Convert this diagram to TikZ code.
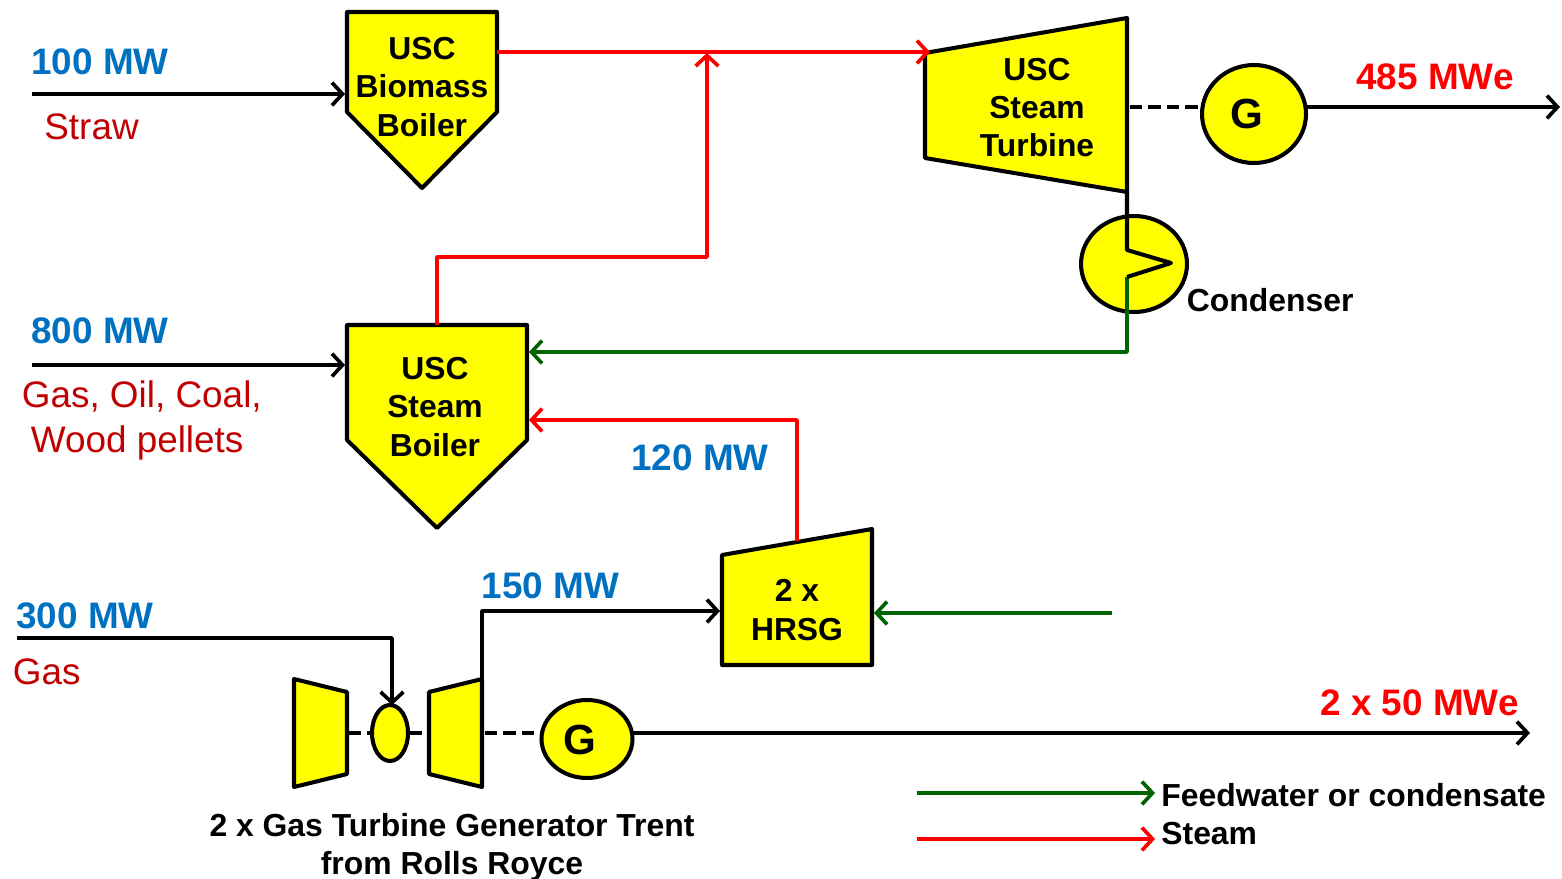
\documentclass[tikz,border=0pt]{standalone}
\usepackage{fontspec}
\setmainfont{Liberation Sans}
\usetikzlibrary{arrows.meta,shapes.geometric}
\definecolor{powerblue}{HTML}{0070C0}
\definecolor{fuelred}{HTML}{C00000}
\definecolor{waterlinegreen}{HTML}{006400}
\definecolor{unityellow}{HTML}{FFFF00}
\definecolor{steamred}{HTML}{FF0000}
\tikzset{
  unitbox/.style={draw=black, fill=unityellow, line width=2.3pt, line join=round},
  unitcirc/.style={ellipse, draw=black, fill=unityellow, line width=2.3pt, inner sep=0pt},
  flow/.style={->, line width=2.1pt, line join=round},
  steam/.style={flow, draw=steamred},
  water/.style={flow, draw=waterlinegreen},
  shaft/.style={draw=black, line width=2.1pt, dash pattern=on 7pt off 3.5pt},
  unitlabel/.style={font=\bfseries\fontsize{18.1}{21.8}\selectfont, align=center, inner sep=0pt},
  powerlabel/.style={anchor=base west, inner sep=0pt, text=powerblue, font=\bfseries\fontsize{21}{24}\selectfont},
  elabel/.style={anchor=base west, inner sep=0pt, text=steamred, font=\bfseries\fontsize{21}{24}\selectfont},
  fuellabel/.style={anchor=base west, inner sep=0pt, text=fuelred, font=\fontsize{21}{24}\selectfont},
  notelabel/.style={anchor=base west, inner sep=0pt, font=\bfseries\fontsize{18.15}{21.8}\selectfont},
}
\begin{document}
\begin{tikzpicture}[x=0.02cm, y=-0.02cm, >={Straight Barb[length=6pt,width=13pt]}]
  \useasboundingbox (0,0) rectangle (1562,879);

  % units
  \draw[unitbox] (347,12) -- (497,12) -- (497,112) -- (422,188) -- (347,112) -- cycle;
  \draw[unitbox] (347,325) -- (527,325) -- (527,440) -- (437,528) -- (347,440) -- cycle;
  \draw[unitbox] (925,53) -- (1127,18) -- (1127,192) -- (925,158) -- cycle;
  \draw[unitbox] (722,555) -- (872,529) -- (872,665) -- (722,665) -- cycle;
  \draw[unitbox] (294,679) -- (347,692) -- (347,774) -- (294,787) -- cycle;
  \draw[unitbox] (429,692) -- (482,679) -- (482,787) -- (429,774) -- cycle;

  % connection points
  \coordinate (BiomassOut) at (497,52);
  \coordinate (TurbineIn) at (930,52);
  \coordinate (SteamJoin) at (707,53);
  \coordinate (SteamBoilerTop) at (437,325);
  \coordinate (Bend1) at (437,257);
  \coordinate (Bend2) at (707,257);
  \coordinate (StrawStart) at (32,94);
  \coordinate (BiomassIn) at (345,94);
  \coordinate (FuelStart) at (32,365);
  \coordinate (SteamBoilerIn) at (345,365);
  \coordinate (TurbineShaft) at (1130,107);
  \coordinate (GenSteamIn) at (1201,107);
  \coordinate (GenSteamOut) at (1307,107);
  \coordinate (GridSteam) at (1560,107);
  \coordinate (TurbineFoot) at (1127,192);
  \coordinate (CoilA) at (1127,250);
  \coordinate (CoilB) at (1171,263);
  \coordinate (CoilC) at (1127,277);
  \coordinate (Bend3) at (1127,352);
  \coordinate (FeedIn) at (529,352);
  \coordinate (HrsgTop) at (797,541);
  \coordinate (Bend4) at (797,420);
  \coordinate (ReheatIn) at (529,420);
  \coordinate (HrsgWaterStart) at (1112,613);
  \coordinate (HrsgWaterIn) at (874,613);
  \coordinate (GasTurbineTop) at (482,680);
  \coordinate (Bend5) at (482,611);
  \coordinate (HrsgIn) at (720,611);
  \coordinate (GasStart) at (17,638);
  \coordinate (Bend6) at (392,638);
  \coordinate (CombustorIn) at (392,705);
  \coordinate (CompShaft) at (349,733);
  \coordinate (CombIn) at (372,733);
  \coordinate (CombOut) at (410,733);
  \coordinate (TurbIn) at (429,733);
  \coordinate (GasShaft) at (485,733);
  \coordinate (GenGasIn) at (542,733);
  \coordinate (GenGasOut) at (633,733);
  \coordinate (GridGas) at (1530,733);
  \coordinate (LegendGreenA) at (917,793);
  \coordinate (LegendGreenB) at (1155,793);
  \coordinate (LegendRedA) at (917,839);
  \coordinate (LegendRedB) at (1155,839);

  % shafts and power
  \draw[shaft] (TurbineShaft) to (GenSteamIn);
  \draw[shaft] (CompShaft) to (CombIn);
  \draw[shaft] (CombOut) to (TurbIn);
  \draw[shaft] (GasShaft) to (GenGasIn);

  \node[unitcirc, minimum width=2.08cm, minimum height=1.96cm] (GenSteam) at (1254,114) {};
  \node[unitcirc, minimum width=2.12cm, minimum height=1.92cm] (Condenser) at (1134,264) {};
  \node[unitcirc, minimum width=0.72cm, minimum height=1.12cm] (Combustor) at (390,733) {};
  \node[unitcirc, minimum width=1.82cm, minimum height=1.56cm] (GenGas) at (587,739) {};

  % steam
  \draw[steam] (BiomassOut) to (TurbineIn);
  \draw[steam] (SteamBoilerTop) -- (Bend1) -- (Bend2) -- (SteamJoin);
  \draw[steam] (HrsgTop) -- (Bend4) -- (ReheatIn);
  \draw[steam] (LegendRedA) to (LegendRedB);

  % feedwater
  \draw[water] (CoilC) -- (Bend3) -- (FeedIn);
  \draw[water] (HrsgWaterStart) to (HrsgWaterIn);
  \draw[water] (LegendGreenA) to (LegendGreenB);

  % fuel and flue gas
  \draw[flow] (StrawStart) to (BiomassIn);
  \draw[flow] (FuelStart) to (SteamBoilerIn);
  \draw[flow] (GasStart) -- (Bend6) -- (CombustorIn);
  \draw[flow] (GasTurbineTop) -- (Bend5) -- (HrsgIn);

  \draw[flow] (GenSteamOut) to (GridSteam);
  \draw[flow] (GenGasOut) to (GridGas);
  \draw[draw=black, line width=2.3pt, line join=round] (TurbineFoot) -- (CoilA) -- (CoilB) -- (CoilC);

  % unit text
  \node[unitlabel] (BiomassText) at (422,87) {USC\\Biomass\\Boiler};
  \node[unitlabel] (BoilerText) at (435,407) {USC\\Steam\\Boiler};
  \node[unitlabel] (TurbineText) at (1037,107.5) {USC\\Steam\\Turbine};
  \node[unitlabel] (HrsgText) at (797,610) {2 x\\HRSG};
  \node[unitlabel, font=\bfseries\fontsize{24}{24}\selectfont] (GenSteamText) at (1247,114) {G};
  \node[unitlabel, font=\bfseries\fontsize{24}{24}\selectfont] (GenGasText) at (579.5,740) {G};

  % flow labels
  \node[powerlabel] (Power100) at (31,74) {100 MW};
  \node[powerlabel] (Power800) at (31,343) {800 MW};
  \node[powerlabel] (Power120) at (631,470) {120 MW};
  \node[powerlabel] (Power150) at (481.5,598) {150 MW};
  \node[powerlabel] (Power300) at (16,628) {300 MW};
  \node[elabel] (Output485) at (1356,89) {485 MWe};
  \node[elabel] (Output50) at (1320,715) {2 x 50 MWe};
  \node[fuellabel] (FuelStraw) at (44,139) {Straw};
  \node[fuellabel] (FuelMixA) at (21.5,407) {Gas, Oil, Coal,};
  \node[fuellabel] (FuelMixB) at (30.5,452) {Wood pellets};
  \node[fuellabel] (FuelGas) at (12.5,684) {Gas};

  % notes
  \node[notelabel] (CondenserText) at (1186.5,311) {Condenser};
  \node[notelabel] (LegendFeed) at (1161,806) {Feedwater or condensate};
  \node[notelabel] (LegendSteam) at (1161,844) {Steam};
  \node[notelabel, anchor=center, align=center] (GasTurbineText) at (452,847.5) {2 x Gas Turbine Generator Trent\\from Rolls Royce};
\end{tikzpicture}
\end{document}
